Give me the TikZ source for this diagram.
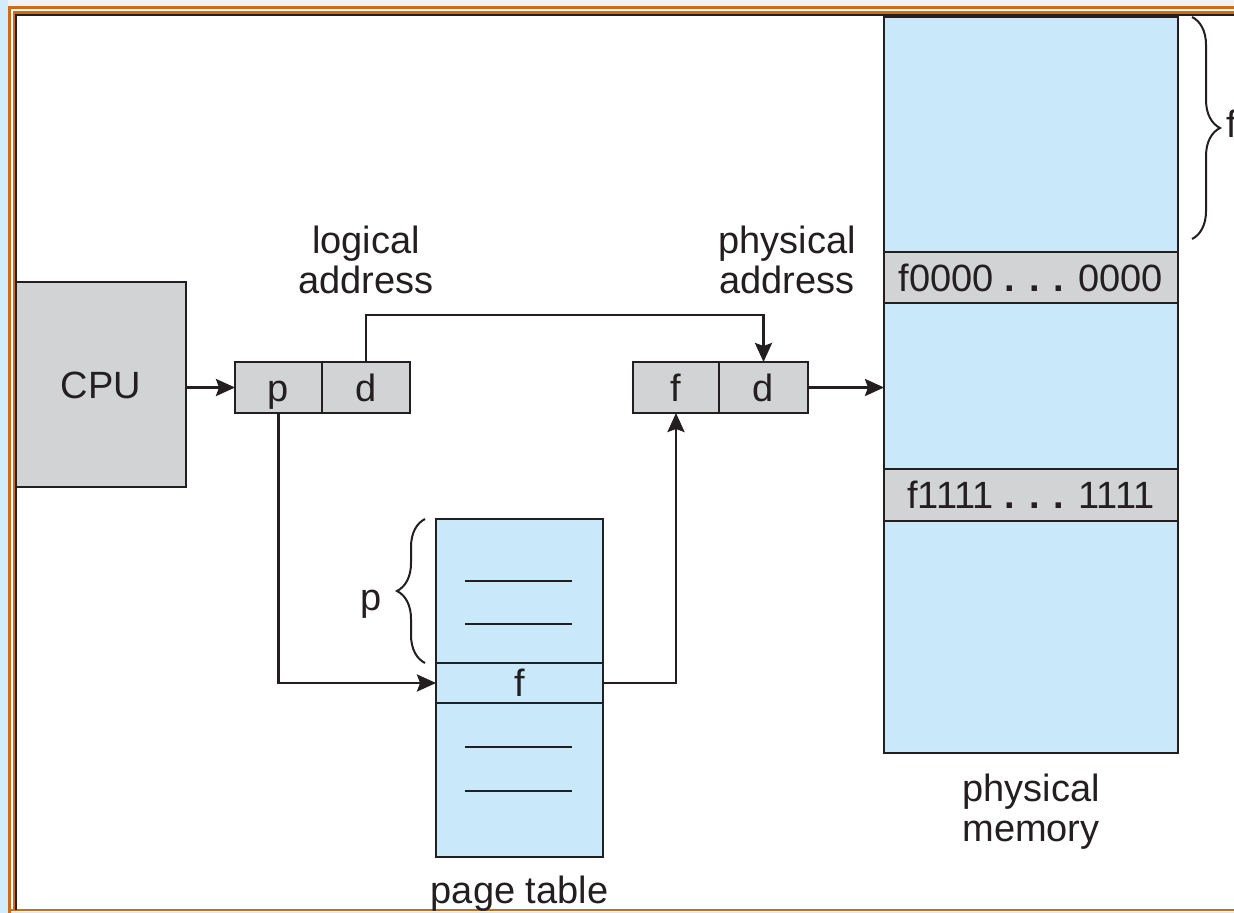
\documentclass[tikz,border=0pt]{standalone}
\usepackage{fontspec}
\setmainfont{Liberation Sans}
\usetikzlibrary{arrows.meta,decorations.pathreplacing,calc}
\definecolor{lb}{RGB}{201,233,250}
\definecolor{gr}{RGB}{209,211,212}
\definecolor{ln}{RGB}{35,31,32}
\definecolor{org}{RGB}{207,106,22}
\definecolor{sideblue}{RGB}{210,236,252}
\definecolor{topgray}{RGB}{238,243,247}
\begin{document}
\begin{tikzpicture}[x=0.5pt,y=-0.5pt,
  every node/.style={text=ln, font=\fontsize{19}{20}\selectfont},
  box/.style={draw=ln, line width=1pt, inner sep=0pt, outer sep=0pt},
  greybox/.style={box, fill=gr},
  bluebox/.style={box, fill=lb},
  celltext/.style={text height=13.6pt, text depth=0pt},
  conn/.style={draw=ln, line width=1.35pt},
  arr/.style={conn, -{Stealth[length=9.5pt,width=8.5pt,inset=1.5pt]}},
  brc/.style={draw=ln, line width=1pt, decoration={brace, amplitude=14pt}, decorate},
  rowline/.style={draw=ln, line width=1.1pt},
]
\useasboundingbox (0,0) rectangle (1234,913);
\fill[white] (0,0) rectangle (1234,913);
\fill[sideblue] (0,0) rectangle (8,913);
\fill[topgray] (8,0) rectangle (1234,6);
\fill[sideblue] (0,911.5) rectangle (1234,913);
% frame
\draw[org, line width=1.35pt] (9.3,913) -- (9.3,7.3) -- (1234,7.3);
\draw[org, line width=1.35pt] (14.6,910) -- (14.6,12.3) -- (1234,12.3);
\draw[org, line width=1.35pt] (9.3,910) -- (1234,910);
\draw[ln, line width=0.8pt] (16,910) -- (16,14.8) -- (1234,14.8);

% CPU and address registers
\node[greybox, minimum width=85pt, minimum height=102.5pt, celltext] (cpu) at (101,384.5) {CPU};
\node[greybox, minimum width=43.5pt, minimum height=25.5pt, celltext] (lp) at (278.5,387.5) {p};
\node[greybox, minimum width=44pt, minimum height=25.5pt, celltext] (ld) at (366,387.5) {d};
\node[greybox, minimum width=43pt, minimum height=25.5pt, celltext] (pf) at (676,387.5) {f};
\node[greybox, minimum width=44.5pt, minimum height=25.5pt, celltext] (pd) at (763.5,387.5) {d};

% page table
\node[bluebox, minimum width=83.5pt, minimum height=169pt] (pt) at (519.5,688) {};
\node[bluebox, minimum width=83.5pt, minimum height=20pt, celltext] (ptf) at (519.5,683) {f};
\draw[rowline] (465,580.7) -- (572,580.7);
\draw[rowline] (465,624.3) -- (572,624.3);
\draw[rowline] (465,747) -- (572,747);
\draw[rowline] (465,790.7) -- (572,790.7);

% physical memory
\node[bluebox, minimum width=147pt, minimum height=368pt] (mem) at (1031,385) {};
\node[greybox, minimum width=147pt, minimum height=25.5pt, celltext] (m0) at (1031,277.5) {f0000 \textbf{. . .} 0000};
\node[greybox, minimum width=147pt, minimum height=26pt, celltext] (m1) at (1031,495) {f1111 \textbf{. . .} 1111};

% labels
\node[align=center] (la) at (366,260) {logical\\address};
\node[align=center] (pa) at (787,260) {physical\\address};
\node[align=center] (pm) at (1031,812) {physical\\memory};
\node (ptl) at (519.5,894) {page table};
\node (plab) at (371,604) {p};
\node[anchor=base west, inner sep=0pt] (flab) at (1226,138) {f};

% braces
\draw[brc] (425,663) -- (425,519);
\draw[brc] (1192,17) -- (1192,239);

% connectors
\coordinate (topy) at (0,315);
\draw[arr] (cpu.east |- lp.west) -- (lp.west);
\draw[arr] (ld.north) |- (pd.north |- topy) -- (pd.north);
\draw[arr] (pd.east) -- (pd.east -| mem.west);
\draw[arr] (lp.south) |- (ptf.west);
\draw[arr] (ptf.east) -| (pf.south);
\end{tikzpicture}
\end{document}
